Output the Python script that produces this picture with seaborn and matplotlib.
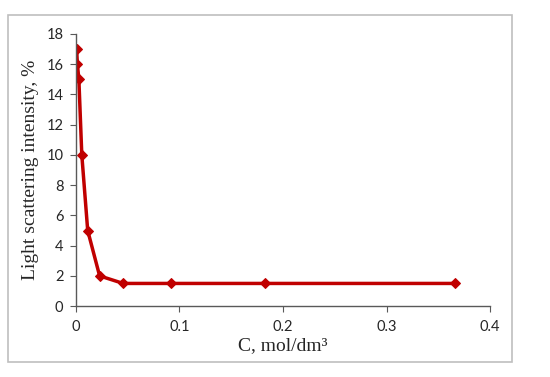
import matplotlib
matplotlib.use("Agg")
import matplotlib.pyplot as plt
import pandas as pd
import seaborn as sns
from matplotlib.patches import Rectangle

# Data
conc = [0.000715, 0.00143, 0.00286, 0.0057, 0.0114, 0.0229, 0.0457, 0.0914, 0.183, 0.366]
intensity = [17, 16, 15, 10, 5, 2, 1.5, 1.5, 1.5, 1.5]
x_ticks = [0, 0.1, 0.2, 0.3, 0.4]
x_tick_labels = ["0", "0.1", "0.2", "0.3", "0.4"]
y_ticks = [0, 2, 4, 6, 8, 10, 12, 14, 16, 18]

df = pd.DataFrame({"conc": conc, "intensity": intensity})

sns.set_style("ticks")
plt.rcParams["font.family"] = ["Lato", "DejaVu Sans"]

fig = plt.figure(figsize=(5.5, 3.77), dpi=100)
ax = fig.add_axes([0.138, 0.188, 0.753, 0.722])

# outer frame around the chart
fig.patches.append(Rectangle((8 / 550, 1 - 362 / 377), 504 / 550, 347 / 377,
                             transform=fig.transFigure, fill=False,
                             edgecolor="#bfbfbf", linewidth=1.2))

sns.lineplot(data=df, x="conc", y="intensity", ax=ax, color="#c00000",
             linewidth=2.5, marker="D", markersize=5, markeredgecolor="#c00000")

ax.set_xlim(0, 0.4)
ax.set_ylim(0, 18)
ax.set_xticks(x_ticks)
ax.set_xticklabels(x_tick_labels)
ax.set_yticks(y_ticks)
ax.tick_params(labelsize=10.5, length=4, color="#595959", labelcolor="#262626")
ax.tick_params(axis="x", pad=6)
ax.tick_params(axis="y", pad=5)

for side in ["top", "right"]:
    ax.spines[side].set_visible(False)
for side in ["left", "bottom"]:
    ax.spines[side].set_color("#595959")
    ax.spines[side].set_linewidth(1)

serif = ["Liberation Serif", "DejaVu Serif"]
ax.set_xlabel("C, mol/dm³", fontsize=14, family=serif, labelpad=2, color="#262626")
ax.set_ylabel("Light scattering intensity, %", fontsize=14, family=serif, labelpad=5, color="#262626")

fig.savefig("out.png", dpi=100)
